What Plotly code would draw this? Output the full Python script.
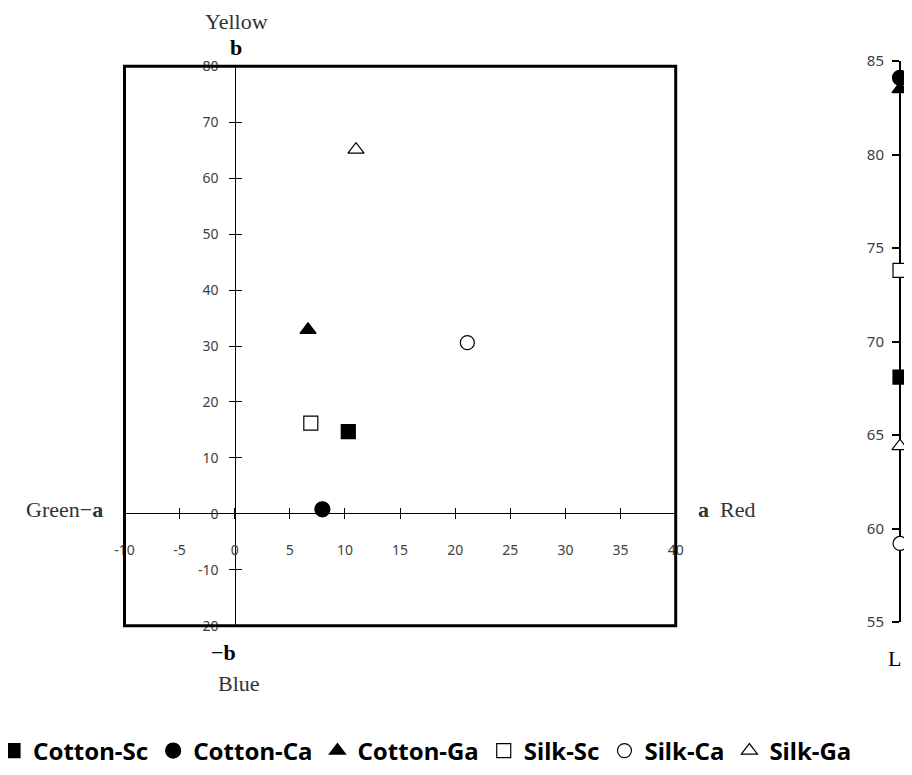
import plotly.graph_objects as go

# ---------------- data ----------------
categories = ["Cotton-Sc", "Cotton-Ca", "Cotton-Ga", "Silk-Sc", "Silk-Ca", "Silk-Ga"]
a_values = [10.3, 7.95, 6.65, 6.9, 21.1, 11.0]      # a* (green - red)
b_values = [14.7, 0.8, 32.9, 16.2, 30.6, 65.1]      # b* (blue - yellow)
L_values = [68.1, 84.1, 83.5, 73.8, 59.2, 64.4]     # L* lightness
a_ticks = [-10, -5, 0, 5, 10, 15, 20, 25, 30, 35, 40]
b_ticks = [-20, -10, 0, 10, 20, 30, 40, 50, 60, 70, 80]
L_ticks = [55, 60, 65, 70, 75, 80, 85]

# ---------------- styles ----------------
symbols = ["square", "circle", "triangle-up", "square", "circle", "triangle-up"]
fills = ["black", "black", "black", "white", "white", "white"]
sizes = [14, 15, 14, 14, 14, 14]

# the page body has an 8px margin, so the figure starts at page (8, 8);
# keep the figure inside the window so no scrollbars appear
OFF = 8
W, H = 912 - 2 * OFF, 775 - 2 * OFF
MB = 40                      # bottom margin that holds the legend
PH = H - MB                  # plot-area height
L_LINE = 900                 # page x of the lightness axis


def px(x):
    return (x - OFF) / W


def py(y):
    return 1 - (y - OFF) / PH


fig = go.Figure()

for i, name in enumerate(categories):
    mk = dict(symbol=symbols[i], size=sizes[i], color=fills[i],
              line=dict(color="black", width=1.2))
    fig.add_trace(go.Scatter(
        x=[a_values[i]], y=[b_values[i]], mode="markers", name=name,
        marker=mk, legendgroup=name, showlegend=True,
        xaxis="x", yaxis="y", cliponaxis=False))

for i, name in enumerate(categories):
    mk = dict(symbol=symbols[i], size=sizes[i], color=fills[i],
              line=dict(color="black", width=1.2))
    fig.add_trace(go.Scatter(
        x=[0], y=[L_values[i]], mode="markers", name=name,
        marker=mk, legendgroup=name, showlegend=False,
        xaxis="x2", yaxis="y2", cliponaxis=False))

# dummy trace so that the overlay axes (inner half of crossing ticks) render
fig.add_trace(go.Scatter(x=[None], y=[None], xaxis="x3", yaxis="y3",
                         showlegend=False, hoverinfo="skip"))

tickfont = dict(family="Noto Sans", size=14, color="#404040")
x_dom = [px(124.5), px(675.7)]
y_dom = [py(625.7), py(66.3)]
x_pos = py(513.3)   # paper y of b = 0
y_pos = px(235.3)   # paper x of a = 0

common = dict(showgrid=False, zeroline=False, layer="below traces", automargin=False)

# x2 spans page 880..904; value 0 sits on the lightness axis line
x2_left, x2_right = 880, 904
x2_range = [-(L_LINE - x2_left), x2_right - L_LINE]

fig.update_layout(
    width=W, height=H,
    margin=dict(l=0, r=0, t=0, b=MB, autoexpand=False),
    paper_bgcolor="white", plot_bgcolor="rgba(0,0,0,0)",
    xaxis=dict(domain=x_dom, range=[-10, 40], anchor="free", position=x_pos,
               showline=True, linecolor="black", linewidth=1,
               ticks="outside", ticklen=5, tickwidth=1, tickcolor="black",
               tickmode="array", tickvals=a_ticks, ticktext=[str(v) for v in a_ticks],
               tickfont=tickfont, ticklabelstandoff=19, **common),
    yaxis=dict(domain=y_dom, range=[-20, 80], anchor="free", position=y_pos,
               showline=True, linecolor="black", linewidth=1,
               ticks="outside", ticklen=6, tickwidth=1, tickcolor="black",
               tickmode="array", tickvals=b_ticks, ticktext=[str(v) for v in b_ticks],
               tickfont=tickfont, ticklabelstandoff=8, **common),
    xaxis3=dict(overlaying="x", range=[-10, 40], anchor="free", position=x_pos,
                showline=False, ticks="inside", ticklen=5, tickwidth=1,
                tickcolor="black", tickmode="array", tickvals=a_ticks,
                showticklabels=False, **common),
    yaxis3=dict(overlaying="y", range=[-20, 80], anchor="free", position=y_pos,
                showline=False, ticks="inside", ticklen=6, tickwidth=1,
                tickcolor="black", tickmode="array", tickvals=b_ticks,
                showticklabels=False, **common),
    xaxis2=dict(domain=[px(x2_left), 1.0], range=x2_range, anchor="y2",
                visible=False, **common),
    yaxis2=dict(domain=[py(622), py(61)], range=[55, 85], anchor="free",
                position=px(L_LINE), side="left",
                showline=True, linecolor="black", linewidth=2,
                ticks="outside", ticklen=7, tickwidth=1.5, tickcolor="black",
                tickmode="array", tickvals=L_ticks, ticktext=[str(v) for v in L_ticks],
                tickfont=dict(family="Noto Sans", size=15, color="#404040"),
                ticklabelstandoff=5, **common),
    legend=dict(orientation="h", x=-15 / W, xanchor="left", y=py(751), yanchor="middle",
                font=dict(family="Noto Sans", size=24, color="black", weight="bold"),
                itemwidth=30, bgcolor="rgba(0,0,0,0)", borderwidth=0,
                itemclick=False, itemdoubleclick=False),
    shapes=[dict(type="rect", xref="x domain", yref="y domain",
                 x0=0, x1=1, y0=0, y1=1, line=dict(color="black", width=3),
                 fillcolor="rgba(0,0,0,0)", layer="above")],
)

serif = "Liberation Serif"
txt = "#333333"


def ann(text, x, y, size=22, xanchor="center", color=txt):
    fig.add_annotation(text=text, x=px(x), y=py(y), xref="paper", yref="paper",
                       showarrow=False, xanchor=xanchor, yanchor="middle",
                       font=dict(family=serif, size=size, color=color))


ann("Yellow", 236, 22)
ann("<b>b</b>", 236, 48, color="black")
ann("Green\u2212<b>a</b>", 105, 510, xanchor="right")
ann("<b>a</b>  Red", 696, 510, xanchor="left")
ann("\u2212<b>b</b>", 223, 652, color="black")
ann("Blue", 239, 683)
ann("L", 903, 658, xanchor="right", color="black")

fig.write_html("out.html")
